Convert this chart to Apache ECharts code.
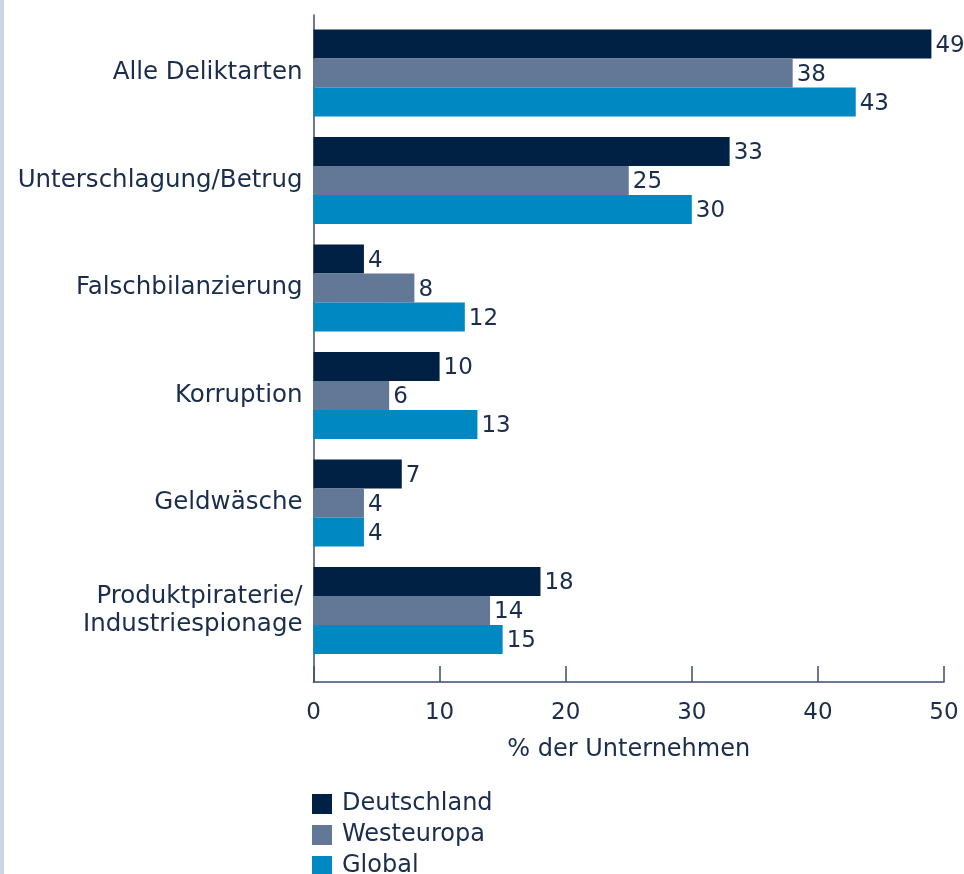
<!DOCTYPE html>
<html>
<head>
<meta charset="utf-8">
<script src="https://cdn.jsdelivr.net/npm/echarts@6/dist/echarts.min.js"></script>
<style>
    html, body { margin: 0; padding: 0; background: #fff; }
    body { border-left: 4px solid #c9d5e2; box-sizing: border-box; width: 964px; height: 874px; }
    #chart { width: 960px; height: 874px; }
</style>
</head>
<body>
<div id="chart"></div>
<script>
var categories = ['Alle Deliktarten', 'Unterschlagung/Betrug', 'Falschbilanzierung', 'Korruption', 'Geldwäsche', 'Produktpiraterie/\nIndustriespionage'];
var deutschland = [49, 33, 4, 10, 7, 18];
var westeuropa = [38, 25, 8, 6, 4, 14];
var global = [43, 30, 12, 13, 4, 15];
var xTicks = [0, 10, 20, 30, 40, 50];

var textColor = '#1a2d4c';
var fontFam = '"DejaVu Sans", "Liberation Sans", Arial, sans-serif';

window.onload = function () {
    var myChart = echarts.init(document.getElementById('chart'));

    function barSeries(name, data, color) {
        return {
            name: name,
            type: 'bar',
            xAxisIndex: 0,
            yAxisIndex: 0,
            data: data,
            barGap: '0%',
            barCategoryGap: '19%',
            itemStyle: { color: color },
            label: {
                show: true,
                position: 'right',
                distance: 4,
                offset: [0, 2],
                color: textColor,
                fontSize: 23,
                fontFamily: fontFam
            }
        };
    }

    let option = {
        animation: false,
        textStyle: { fontFamily: fontFam },
        legend: {
            orient: 'vertical',
            left: 308,
            top: 792,
            height: 120,
            padding: 0,
            itemWidth: 20,
            itemHeight: 20,
            itemGap: 7,
            icon: 'rect',
            textStyle: { color: textColor, fontSize: 24, fontFamily: fontFam, padding: [0, 0, 0, 5] },
            data: ['Deutschland', 'Westeuropa', 'Global']
        },
        grid: [
            { left: 309.5, width: 630.5, top: 19.25, height: 645 },
            { left: 309.5, width: 630.5, top: 15, height: 667 }
        ],
        xAxis: [
            {
                type: 'value', gridIndex: 0, min: 0, max: 50, interval: 10,
                show: false
            },
            {
                type: 'value', gridIndex: 1, min: 0, max: 50, interval: 10,
                name: '% der Unternehmen',
                nameLocation: 'middle',
                nameGap: 56,
                nameTextStyle: { color: textColor, fontSize: 24, fontFamily: fontFam },
                axisLine: { show: true, lineStyle: { color: '#3b4d6b', width: 1.5 } },
                axisTick: { show: true, inside: true, length: 16, lineStyle: { color: '#3b4d6b', width: 1.5 } },
                axisLabel: {
                    color: textColor, fontSize: 23, margin: 20, fontFamily: fontFam,
                    formatter: function (v) { return xTicks.indexOf(v) >= 0 ? String(v) : ''; }
                },
                splitLine: { show: false }
            }
        ],
        yAxis: [
            {
                type: 'category', gridIndex: 0, inverse: true,
                data: categories,
                axisLine: { show: false },
                axisTick: { show: false },
                axisLabel: {
                    color: textColor, fontSize: 24.5, margin: 11, lineHeight: 28,
                    padding: [6, 0, 0, 0], fontFamily: fontFam
                }
            },
            {
                type: 'value', gridIndex: 1, min: 0, max: 1,
                axisLine: { show: true, lineStyle: { color: '#3b4d6b', width: 1.5 } },
                axisTick: { show: false },
                axisLabel: { show: false },
                splitLine: { show: false }
            }
        ],
        series: [
            barSeries('Deutschland', deutschland, '#002143'),
            barSeries('Westeuropa', westeuropa, '#637796'),
            barSeries('Global', global, '#0088c2')
        ]
    };
    myChart.setOption(option);
}
</script>
</body>
</html>
